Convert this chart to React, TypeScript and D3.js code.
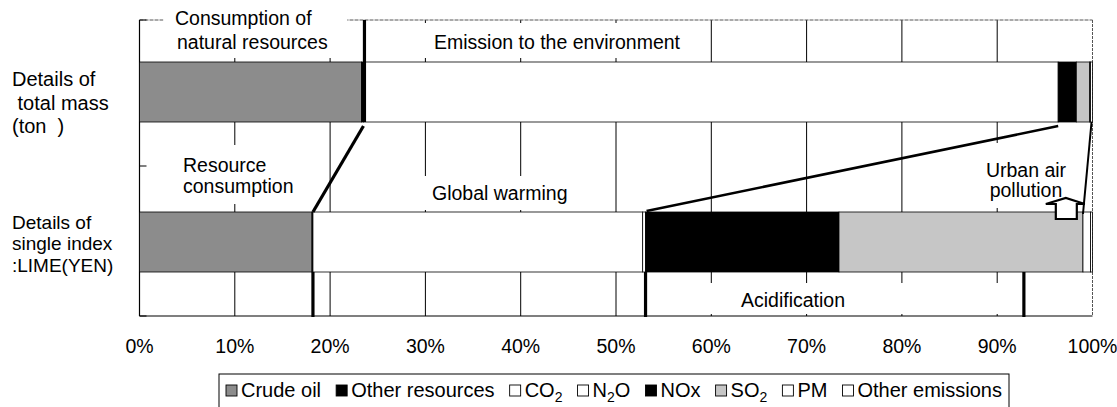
import React, { useEffect, useRef } from "react";
import * as d3 from "d3";

// ---------- data ----------
const categories = ["total", "lime"];
const categoryLabelLines = [
  ["Details of", "\u00a0total mass", "(ton\u00a0\u00a0)"],
  ["Details of", "single index", ":LIME(YEN)"],
];
const seriesKeys = ["Crude oil", "Other resources", "CO2", "N2O", "NOx", "SO2", "PM", "Other emissions"];
// percent shares
const totalMassShares = [23.3, 0.2, 72.9, 0.0, 1.9, 1.4, 0.1, 0.2];
const limeShares = [18.1, 0.1, 34.6, 0.3, 20.3, 25.6, 0.8, 0.2];
const xTickValues = [0, 10, 20, 30, 40, 50, 60, 70, 80, 90, 100];
const xTickLabels = ["0%", "10%", "20%", "30%", "40%", "50%", "60%", "70%", "80%", "90%", "100%"];
const acidificationEnd = 92.8; // split of SO2 between acidification and urban air pollution

// ---------- styles ----------
const FONT = "'Liberation Sans', Arial, sans-serif";
const fills: Record<string, string> = {
  "Crude oil": "#8c8c8c",
  "Other resources": "#000000",
  CO2: "#ffffff",
  N2O: "#ffffff",
  NOx: "#000000",
  SO2: "#c6c6c6",
  PM: "#ffffff",
  "Other emissions": "#ffffff",
};

export default function App() {
  const ref = useRef<SVGSVGElement | null>(null);

  useEffect(() => {
    const svg = d3.select(ref.current);
    svg.selectAll("*").remove();

    const W = 1117, H = 407;
    const plotTop = 20, plotBottom = 316;
    const x = d3.scaleLinear().domain([0, 100]).range([139.5, 1092.5]);
    const y = d3.scaleBand().domain(categories).range([17, 317]).paddingInner(0.6).paddingOuter(0.3);

    svg.append("rect").attr("width", W).attr("height", H).attr("fill", "#fff");

    // vertical gridlines
    svg.append("g").selectAll("line").data(xTickValues.filter(v => v > 0 && v < 100)).join("line")
      .attr("x1", d => x(d)).attr("x2", d => x(d)).attr("y1", plotTop).attr("y2", plotBottom)
      .attr("stroke", "#000").attr("stroke-width", 1);
    // right & top border
    svg.append("line").attr("x1", x(100)).attr("x2", x(100)).attr("y1", plotTop).attr("y2", plotBottom)
      .attr("stroke", "#555").attr("stroke-width", 1).attr("stroke-dasharray", "3,1");
    svg.append("line").attr("x1", x(0)).attr("x2", x(100)).attr("y1", plotTop).attr("y2", plotTop)
      .attr("stroke", "#555").attr("stroke-width", 1).attr("stroke-dasharray", "4,1");

    // white label boxes hiding gridlines
    const masks = [
      [x(2.5), 0, x(21.8) - x(2.5), 58],
      [x(23.9), 23, x(59.3) - x(23.9), 35],
      [x(0.2), 145, x(19.2) - x(0.2), 59],
      [x(20.5), 176, x(49.3) - x(20.5), 34],
      [x(86.3), 143, x(99.2) - x(86.3), 65],
      [x(53.7), 283, x(92.3) - x(53.7), 31],
    ];
    svg.append("g").selectAll("rect").data(masks).join("rect")
      .attr("x", d => d[0]).attr("y", d => d[1]).attr("width", d => d[2]).attr("height", d => d[3])
      .attr("fill", "#fff");

    // bottom axis line & left axis
    svg.append("line").attr("x1", x(0)).attr("x2", x(100)).attr("y1", plotBottom).attr("y2", plotBottom)
      .attr("stroke", "#000").attr("stroke-width", 1.2);
    svg.append("line").attr("x1", x(0)).attr("x2", x(0)).attr("y1", plotTop).attr("y2", plotBottom)
      .attr("stroke", "#000").attr("stroke-width", 1.2);
    const catEdges = [plotTop, (y("total")! + y.bandwidth() + y("lime")!) / 2 - 1, plotBottom];
    svg.append("g").selectAll("line").data(catEdges).join("line")
      .attr("x1", x(0)).attr("x2", x(0) + 7).attr("y1", d => d).attr("y2", d => d)
      .attr("stroke", "#000");

    // stacked bars
    const rows = categories.map((c, i) => {
      const vals = i === 0 ? totalMassShares : limeShares;
      const o: any = { cat: c };
      seriesKeys.forEach((k, j) => (o[k] = vals[j]));
      return o;
    });
    const stacked = d3.stack().keys(seriesKeys)(rows as any);
    const gBars = svg.append("g");
    stacked.forEach(layer => {
      gBars.selectAll(null).data(layer).join("rect")
        .attr("x", d => x(d[0]))
        .attr("width", d => Math.max(0, x(d[1]) - x(d[0])))
        .attr("y", d => y((d as any).data.cat)!)
        .attr("height", y.bandwidth())
        .attr("fill", fills[layer.key])
        .attr("stroke", "#000")
        .attr("stroke-width", d => (d[1] - d[0] > 0 ? 0.8 : 0));
    });

    const cum = (vals: number[], n: number) => d3.sum(vals.slice(0, n));
    const topY = y("total")!, topB = topY + y.bandwidth();
    const botY = y("lime")!, botB = botY + y.bandwidth();
    const topRes = cum(totalMassShares, 2);
    const botRes = cum(limeShares, 2);
    const botGW = cum(limeShares, 4);
    const topNOx = cum(totalMassShares, 4);

    const thick = (x1: number, y1: number, x2: number, y2: number, w = 3.2) =>
      svg.append("line").attr("x1", x1).attr("y1", y1).attr("x2", x2).attr("y2", y2)
        .attr("stroke", "#000").attr("stroke-width", w);

    thick(x(topRes) + 1, plotTop, x(topRes) + 1, topB);
    thick(x(topRes), topB + 4, x(botRes), botY);
    thick(x(botRes), botB, x(botRes), plotBottom + 1);
    thick(x(topNOx), topB + 4, x(botGW) + 1, botY - 1, 2.6);
    thick(x(botGW), botB, x(botGW), plotBottom + 1);
    thick(x(acidificationEnd), botB, x(acidificationEnd), plotBottom + 1);
    thick(x(99.9), topB, x(99.0), botY + 2, 2);

    // upward arrow (urban air pollution)
    const ax = x(97.2);
    const arrow: [number, number][] = [
      [ax - 10, 219], [ax - 10, 204], [ax - 20, 204], [ax, 198], [ax + 19, 204], [ax + 11, 204], [ax + 11, 219],
    ];
    svg.append("path").attr("d", d3.line()(arrow)! + "Z")
      .attr("fill", "#fff").attr("stroke", "#000").attr("stroke-width", 2.2).attr("stroke-linejoin", "miter");

    // annotation texts
    const txt = (s: string, tx: number, ty: number, anchor = "start", size = 19.5) =>
      svg.append("text").attr("x", tx).attr("y", ty).attr("text-anchor", anchor)
        .attr("font-family", FONT).attr("font-size", size).attr("fill", "#000").text(s);

    txt("Consumption of", 175, 25);
    txt("natural resources", 177, 49);
    txt("Emission to the environment", 434, 49);
    txt("Resource", 183, 172);
    txt("consumption", 183, 193);
    txt("Global warming", 432, 200);
    txt("Urban air", 1026, 177, "middle");
    txt("pollution", 1026, 197, "middle");
    txt("Acidification", 793, 307, "middle");

    // category labels
    const catBase = [[86, 110, 133], [228.5, 250, 271.5]];
    categoryLabelLines.forEach((lines, i) => {
      lines.forEach((l, j) => txt(l, 12, catBase[i][j], "start", i === 0 ? 20 : 19));
    });

    // x tick labels
    svg.append("g").selectAll("text").data(xTickValues).join("text")
      .attr("x", d => x(d)).attr("y", 353).attr("text-anchor", "middle")
      .attr("font-family", FONT).attr("font-size", 19.5).text((d, i) => xTickLabels[i]);

    // legend
    const legX0 = 219, legX1 = 1009, legTop = 374;
    svg.append("rect").attr("x", legX0).attr("y", legTop).attr("width", legX1 - legX0).attr("height", 60)
      .attr("fill", "#fff").attr("stroke", "#000").attr("stroke-width", 1);
    const gl = svg.append("g");
    const items = seriesKeys.map(k => {
      const g = gl.append("g");
      const m = 11;
      g.append("rect").attr("x", 0).attr("y", -12).attr("width", m).attr("height", m)
        .attr("fill", fills[k]).attr("stroke", "#000").attr("stroke-width", 0.9);
      const t = g.append("text").attr("x", m + 4).attr("y", 0).attr("font-family", FONT).attr("font-size", 20);
      const sub = k === "CO2" || k === "SO2" ? [k.slice(0, 2), "2", ""] : k === "N2O" ? ["N", "2", "O"] : null;
      if (sub) {
        t.append("tspan").text(sub[0]);
        t.append("tspan").attr("font-size", 14).attr("dy", 5).text(sub[1]);
        if (sub[2]) t.append("tspan").attr("dy", -5).text(sub[2]);
      } else t.text(k);
      const w = m + 4 + (t.node() as SVGTextElement).getComputedTextLength();
      return { g, w };
    });
    const startX = 226, endX = 1002;
    const totalW = d3.sum(items, d => d.w);
    const gap = (endX - startX - totalW) / (items.length - 1);
    let cx = startX;
    items.forEach(it => {
      it.g.attr("transform", `translate(${cx},397)`);
      cx += it.w + gap;
    });
  }, []);

  return (
    <svg ref={ref} width={1117} height={407}
      style={{ position: "absolute", left: 0, top: 0, display: "block" }} />
  );
}
